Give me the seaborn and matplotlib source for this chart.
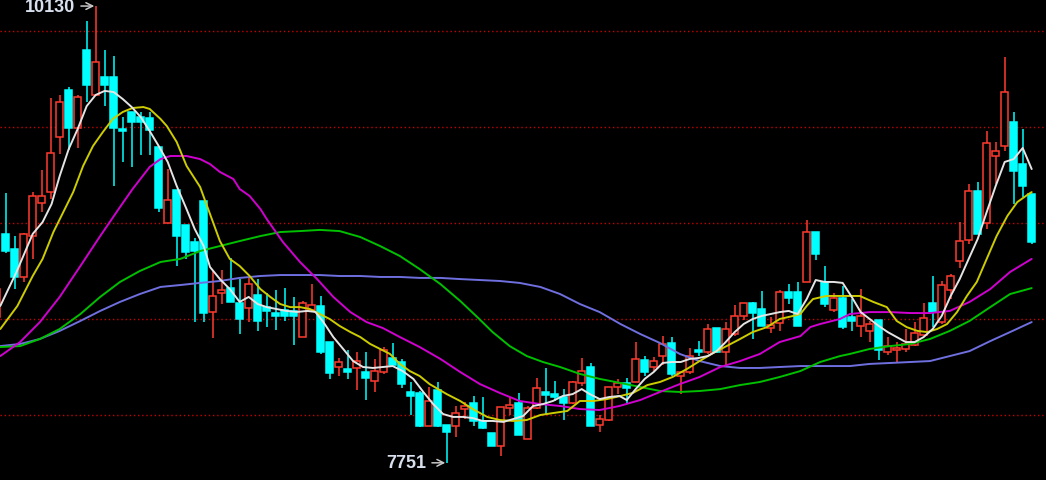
import matplotlib
matplotlib.use("Agg")
import matplotlib.pyplot as plt
import seaborn as sns

# candles (index -1 is the one cut at the left edge)
opens = [8510,
         8943, 8865, 8719, 8932, 9104, 9161, 9448, 9693, 9495, 9901,
         9667, 9760, 9760, 9490, 9578, 9552, 9547, 9396, 9000, 9172,
         8990, 8901, 9115, 8535, 8634, 8661, 8583, 8556, 8627, 8562,
         8531, 8548, 8542, 8408, 8547, 8566, 8379, 8252, 8240, 8245,
         8226, 8179, 8226, 8295, 8274, 8121, 8115, 7944, 8130, 7948,
         7944, 8031, 8062, 7970, 7905, 7837, 8035, 8062, 7875, 8036,
         8118, 8109, 8092, 8062, 8167, 8248, 7948, 7976, 8144, 8167,
         8172, 8286, 8250, 8306, 8373, 8203, 8226, 8340, 8330, 8452,
         8327, 8422, 8516, 8584, 8552, 8455, 8479, 8642, 8642, 8691,
         8955, 8691, 8547, 8608, 8509, 8465, 8439, 8495, 8327, 8339,
         8344, 8364, 8417, 8582, 8483, 8653, 8804, 8913, 9168, 9000,
         9350, 9400, 9528, 9307, 9151]
highs = [8660,
         9156, 8932, 8950, 9161, 9276, 9651, 9667, 9708, 9667, 10052,
         10130, 9901, 9870, 9552, 9580, 9578, 9578, 9400, 9281, 9172,
         8990, 8922, 9115, 8752, 8757, 8818, 8708, 8714, 8708, 8635,
         8653, 8661, 8615, 8595, 8682, 8621, 8379, 8297, 8340, 8327,
         8327, 8292, 8356, 8373, 8292, 8170, 8127, 8144, 8170, 7948,
         8045, 8069, 8101, 8092, 7905, 8043, 8095, 8115, 8045, 8191,
         8245, 8179, 8135, 8179, 8295, 8271, 8000, 8144, 8187, 8191,
         8382, 8309, 8301, 8413, 8405, 8225, 8347, 8388, 8474, 8452,
         8486, 8573, 8585, 8590, 8646, 8509, 8652, 8682, 8691, 9017,
         8955, 8778, 8635, 8674, 8604, 8656, 8491, 8495, 8405, 8379,
         8448, 8483, 8582, 8726, 8700, 8734, 9007, 9203, 9215, 9481,
         9420, 9863, 9577, 9490, 9151]
lows = [8500,
        8844, 8656, 8693, 8812, 9057, 9125, 9359, 9380, 9391, 9630,
        9661, 9609, 9193, 9318, 9292, 9354, 9354, 9057, 9000, 8776,
        8812, 8484, 8484, 8400, 8578, 8587, 8422, 8486, 8439, 8460,
        8444, 8491, 8366, 8408, 8544, 8318, 8187, 8202, 8187, 8132,
        8078, 8118, 8214, 8260, 8139, 8000, 7936, 7944, 7940, 7751,
        7884, 7979, 7944, 7927, 7837, 7788, 8000, 7896, 7875, 8031,
        8000, 8074, 7976, 8057, 8149, 7944, 7913, 7970, 8109, 8062,
        8172, 8205, 8231, 8260, 8202, 8109, 8214, 8305, 8318, 8323,
        8255, 8414, 8497, 8396, 8462, 8427, 8439, 8578, 8465, 8691,
        8807, 8564, 8538, 8448, 8439, 8405, 8382, 8288, 8312, 8278,
        8330, 8358, 8414, 8457, 8474, 8604, 8764, 8891, 8943, 8969,
        9203, 9377, 9099, 9134, 8891]
closes = [8656,
          8854, 8719, 8943, 9141, 9141, 9365, 9630, 9495, 9656, 9719,
          9839, 9719, 9495, 9479, 9526, 9526, 9484, 9078, 9120, 8932,
          8849, 8854, 8531, 8621, 8651, 8587, 8500, 8682, 8491, 8540,
          8517, 8517, 8517, 8582, 8573, 8327, 8219, 8278, 8226, 8283,
          8193, 8231, 8340, 8260, 8161, 8101, 7943, 8074, 7944, 7913,
          8010, 8048, 7970, 7932, 7837, 8043, 8052, 7896, 8036, 8139,
          8104, 8092, 8062, 8170, 8231, 7944, 7979, 8144, 8167, 8139,
          8292, 8224, 8283, 8370, 8214, 8222, 8307, 8328, 8448, 8330,
          8448, 8517, 8582, 8533, 8462, 8469, 8642, 8608, 8465, 8955,
          8839, 8578, 8608, 8457, 8491, 8514, 8474, 8339, 8361, 8347,
          8370, 8427, 8504, 8535, 8677, 8726, 8908, 9168, 8943, 9417,
          9377, 9684, 9272, 9194, 8899]
first_index = -1

# moving averages: (candle index, value)
ma5_x = [-0.6, 1.2, 3, 4.1, 5.1, 6, 7, 8, 9, 10, 11, 12, 13, 14, 15, 16, 17, 18,
         19, 20, 21, 22, 22.7, 23.8, 24.9, 26, 27, 28, 29, 30.1, 31.2, 32.4,
         33.5, 34.4, 35.3, 36.4, 37.5, 38.6, 39.7, 40.8, 41.9, 43, 44.1, 45.3,
         46.4, 47.5, 48.6, 49.7, 50.8, 51.9, 53, 54.1, 55.3, 56.4, 57.5, 58.6,
         59.7, 60.8, 61.9, 63, 64, 64.9, 66, 67.1, 68.2, 69, 70, 71, 72, 73, 74,
         75, 76, 77, 78, 79, 80, 81, 82, 83, 84, 85, 86, 87, 88, 89, 90, 91, 92,
         93, 94, 95, 96, 97, 98, 99, 100, 101, 102, 103, 104, 105, 106, 107,
         108, 109, 110, 111, 112, 113, 114]
ma5_v = [8568, 8745, 8943, 9005, 9099, 9245, 9385, 9490, 9609, 9667, 9688, 9682,
         9646, 9604, 9552, 9479, 9401, 9318, 9193, 9083, 8969, 8880, 8771, 8708,
         8656, 8589, 8615, 8578, 8562, 8552, 8542, 8537, 8542, 8537, 8484, 8406,
         8344, 8281, 8250, 8245, 8250, 8255, 8229, 8188, 8120, 8057, 8005, 7990,
         7990, 7984, 7969, 7969, 7964, 7979, 7995, 8047, 8057, 8073, 8099, 8109,
         8135, 8109, 8083, 8094, 8099, 8078, 8135, 8188, 8224, 8271, 8276, 8276,
         8292, 8297, 8307, 8333, 8380, 8432, 8474, 8500, 8516, 8526, 8536, 8542,
         8526, 8604, 8703, 8693, 8693, 8688, 8615, 8536, 8500, 8464, 8432, 8406,
         8380, 8380, 8406, 8448, 8516, 8620, 8708, 8813, 8917, 9057, 9193, 9318,
         9333, 9391, 9281]

ma10_x = [-0.6, 1.3, 3, 4.1, 5.3, 6.4, 7.5, 8.6, 9.7, 10.8, 11.9, 13, 14.1, 15.3,
          16, 17.2, 17.9, 19, 20.1, 21.6, 22.7, 23.8, 24.9, 26, 27.1, 28.3, 29.4,
          30.5, 31.6, 32.7, 33.8, 34.9, 36, 37.1, 38.3, 39.4, 40.5, 41.6, 42.7,
          43.8, 44.9, 46, 47.1, 49, 50.5, 51.9, 53.5, 54.9, 56.4, 57.9, 59.4,
          60.8, 62.4, 63.8, 65.3, 66.8, 68.3, 69.7, 71.3, 72.7, 74.1, 75.7, 77.1,
          78.6, 80.1, 81.6, 83, 84.6, 86, 87.5, 88.3, 89, 89.7, 91.2, 93, 94.9,
          96.4, 97.9, 99, 100.1, 101.3, 102.4, 103.5, 104.6, 105.7, 106.8, 107.9,
          109, 110.1, 111.3, 112.4, 113.5, 114]
ma10_v = [8448, 8568, 8724, 8813, 8953, 9057, 9161, 9297, 9401, 9474, 9542, 9578,
          9599, 9604, 9594, 9542, 9505, 9422, 9297, 9188, 9047, 8906, 8813, 8776,
          8724, 8656, 8615, 8578, 8562, 8562, 8552, 8526, 8500, 8464, 8432, 8406,
          8370, 8344, 8318, 8266, 8229, 8203, 8161, 8109, 8073, 8031, 7990, 7974,
          7969, 7974, 8000, 8010, 8021, 8073, 8073, 8083, 8099, 8115, 8156, 8172,
          8198, 8240, 8281, 8323, 8359, 8396, 8432, 8458, 8500, 8516, 8526, 8568,
          8604, 8620, 8620, 8620, 8589, 8562, 8490, 8458, 8438, 8432, 8448, 8474,
          8536, 8620, 8693, 8813, 8932, 9037, 9109, 9146, 9161]

ma20_x = [-0.6, 1.6, 3.8, 6, 8.3, 10.5, 12.7, 14.1, 16, 17.2, 18.3, 20.1, 21.6,
          22.7, 23.8, 25.3, 26, 27.1, 28.3, 29, 30.8, 32.7, 34.6, 36.4, 38.3,
          40.1, 41.9, 43.8, 46, 48.3, 50.5, 52.7, 54.9, 57.1, 59.4, 61.6, 63.8,
          66, 68.2, 70.5, 72.7, 74.9, 77.1, 79.4, 81.6, 83.8, 86, 88.3, 89.4,
          90.5, 92.7, 93.8, 96, 98.3, 100.5, 102.7, 104.9, 107.1, 109.4, 111.6,
          114]
ma20_v = [8307, 8380, 8484, 8615, 8776, 8932, 9083, 9177, 9292, 9333, 9349, 9349,
          9333, 9307, 9266, 9229, 9177, 9141, 9073, 9021, 8901, 8797, 8708, 8615,
          8536, 8484, 8453, 8406, 8354, 8292, 8224, 8161, 8115, 8073, 8057, 8047,
          8031, 8026, 8047, 8078, 8120, 8161, 8198, 8250, 8281, 8318, 8380, 8411,
          8458, 8474, 8500, 8526, 8536, 8536, 8531, 8531, 8542, 8589, 8656, 8745,
          8813]

ma40_x = [-0.6, 1.6, 3.8, 6, 8.3, 10.5, 12.7, 14.9, 17.2, 19.4, 21.6, 23.8, 26,
          28.3, 30.5, 32.7, 34.9, 37.1, 39.4, 41.6, 43.8, 46, 48.3, 50.5, 52.4,
          54.1, 56, 57.9, 59.7, 61.6, 63.8, 66, 68.3, 70.5, 72.7, 74.9, 77.1,
          79.4, 81.6, 83.8, 86, 88.3, 90.5, 92.7, 93.8, 96, 98.3, 100.5, 102.7,
          104.9, 107.1, 109.4, 111.6, 114]
ma40_v = [8354, 8359, 8396, 8448, 8526, 8615, 8693, 8750, 8797, 8813, 8854, 8880,
          8906, 8932, 8953, 8958, 8964, 8958, 8927, 8880, 8828, 8760, 8682, 8594,
          8510, 8432, 8359, 8307, 8276, 8250, 8214, 8188, 8167, 8146, 8125, 8120,
          8125, 8135, 8156, 8172, 8198, 8229, 8276, 8307, 8318, 8344, 8359, 8370,
          8396, 8438, 8490, 8562, 8630, 8661]

ma60_x = [-0.6, 1.6, 3.8, 6, 8.3, 10.5, 12.7, 14.9, 17.2, 19.4, 21.6, 23.8, 26,
          28.3, 30.5, 32.7, 34.9, 37.1, 39.4, 41.6, 43.8, 46, 48.3, 50.5, 52.7,
          54.9, 57.1, 59.4, 61.6, 63.8, 66, 68.3, 70.5, 72.7, 74.9, 77.1, 79.4,
          81.6, 83.8, 86, 88.3, 90.5, 93.8, 96, 98.3, 100.5, 102.7, 104.9, 107.1,
          109.4, 111.6, 114]
ma60_v = [8359, 8370, 8396, 8438, 8490, 8542, 8589, 8630, 8667, 8677, 8688, 8698,
          8714, 8724, 8729, 8729, 8729, 8724, 8724, 8719, 8719, 8714, 8714, 8708,
          8703, 8698, 8688, 8667, 8630, 8578, 8536, 8474, 8422, 8375, 8318, 8281,
          8255, 8245, 8245, 8250, 8255, 8255, 8255, 8266, 8271, 8276, 8281, 8307,
          8333, 8385, 8432, 8484]

grid_levels = [8000, 8500, 9000, 9500, 10000]

sns.set_theme(style="dark")
plt.rcParams['font.family'] = ['Liberation Sans', 'DejaVu Sans']

fig = plt.figure(figsize=(10.46, 4.81), dpi=100, facecolor='black')
ax = fig.add_axes([0, 0, 1, 1])
ax.set_facecolor('black')

for lvl in grid_levels:
    ax.axhline(lvl, color='#c80000', lw=1, linestyle=(0, (1, 2)), zorder=1)

up_col = '#ff3b30'
down_col = '#00ffff'
for k in range(len(opens)):
    x = first_index + k
    o, h, l, c = opens[k], highs[k], lows[k], closes[k]
    up = c >= o
    col = up_col if up else down_col
    ax.vlines(x, l, h, color=col, lw=1.1, zorder=2)
    body = max(abs(c - o), 5)
    ax.bar(x, body, bottom=min(o, c), width=0.72,
           color='black' if up else down_col, edgecolor=col,
           linewidth=1.1, zorder=3)

ma_lines = [(ma60_x, ma60_v, '#6f6fe0'),
            (ma40_x, ma40_v, '#00c000'),
            (ma20_x, ma20_v, '#d000d0'),
            (ma10_x, ma10_v, '#cccc00'),
            (ma5_x, ma5_v, '#e4e4e4')]
for xs, vs, col in ma_lines:
    sns.lineplot(x=xs, y=vs, color=col, lw=1.4, sort=False,
                 estimator=None, ax=ax, zorder=4)

# high / low markers
i_hi = highs.index(max(highs))
i_lo = lows.index(min(lows))
arrow = dict(arrowstyle='->', color='#c8c8c8', lw=1.1, shrinkA=2, shrinkB=1,
             mutation_scale=12)
ax.annotate(f"{max(highs)}", xy=(first_index + i_hi, max(highs)),
            xytext=(-15, 0), textcoords='offset points', ha='right',
            va='center', fontsize=13, fontweight='bold', color='#d8e0ee',
            arrowprops=arrow, zorder=5)
ax.annotate(f"{min(lows)}", xy=(first_index + i_lo, min(lows)),
            xytext=(-15, 0), textcoords='offset points', ha='right',
            va='center', fontsize=13, fontweight='bold', color='#d8e0ee',
            arrowprops=arrow, zorder=5)

ax.set_xlim(-0.633, 115.59)
ax.set_ylim(7661.5, 10166.7)
ax.set_xticks([])
ax.set_yticks([])
ax.grid(False)
for s in ax.spines.values():
    s.set_visible(False)

fig.savefig('out.png', dpi=100, facecolor='black')
